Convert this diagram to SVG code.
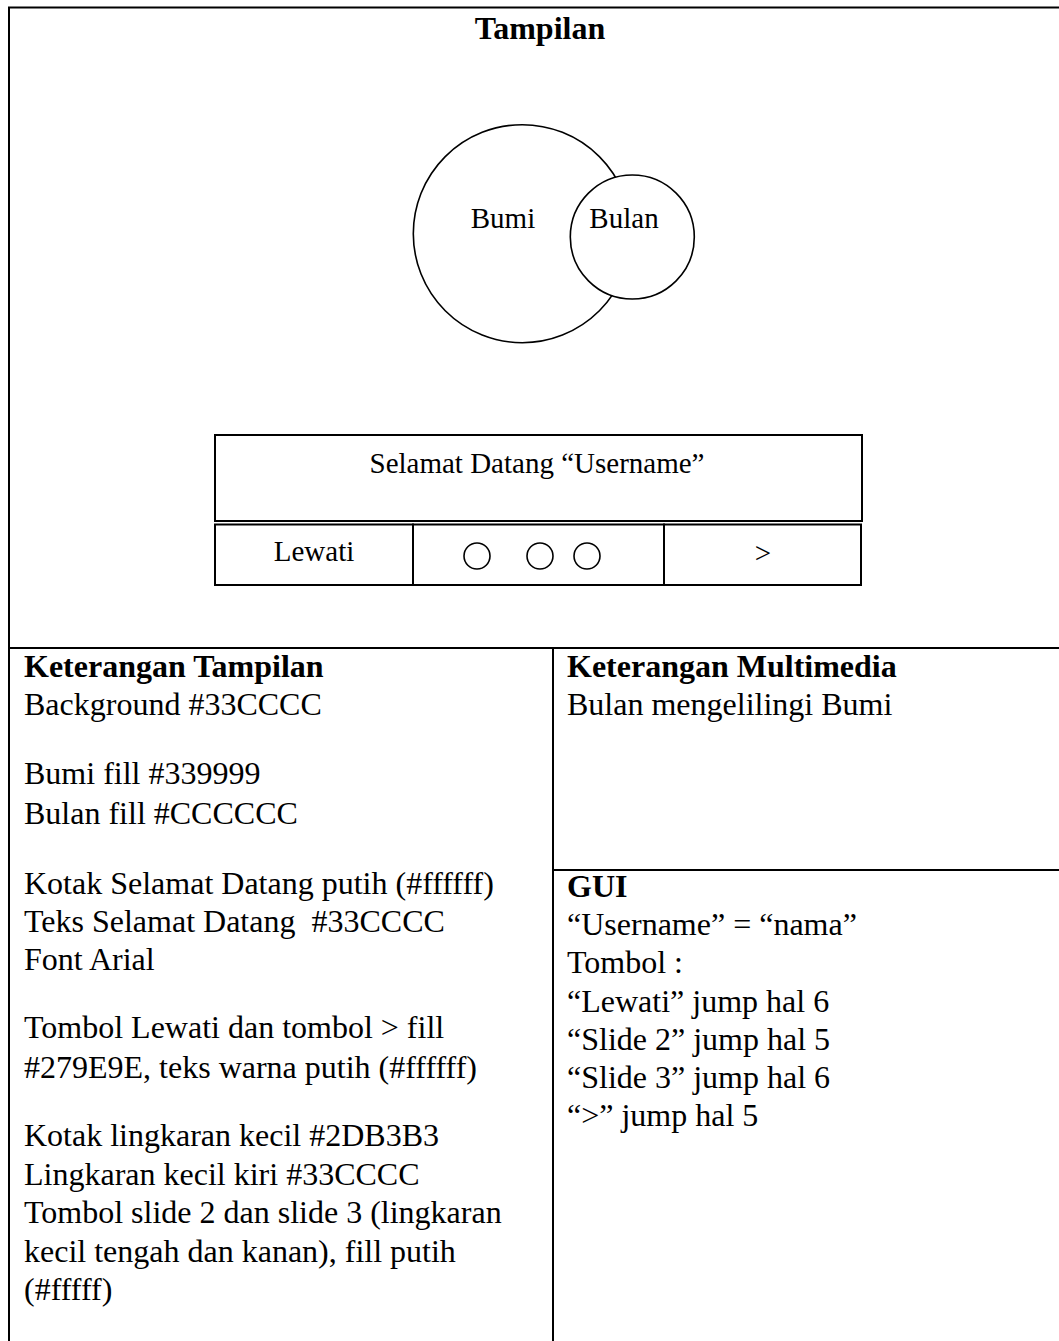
<svg xmlns="http://www.w3.org/2000/svg" width="1059" height="1341" viewBox="0 0 1059 1341">
  <style>
    text { font-family: "Liberation Serif", "Times New Roman", serif; fill: #000; }
    .t { font-size: 32px; }
    .d { font-size: 29px; }
    .b { font-weight: bold; }
    .mid { text-anchor: middle; }
    .rule { stroke: #000; stroke-width: 2; fill: none; }
    .shape { stroke: #000; stroke-width: 1.6; fill: #fff; }
    .box { stroke: #000; stroke-width: 2; fill: #fff; }
  </style>

  <rect width="1059" height="1341" fill="#fff"/>

  <!-- table frame -->
  <g id="frame">
    <line class="rule" x1="8" y1="7.5" x2="1059" y2="7.5"/>
    <line class="rule" x1="9" y1="7" x2="9" y2="1341"/>
    <line class="rule" x1="8" y1="648" x2="1059" y2="648"/>
    <line class="rule" x1="553" y1="648" x2="553" y2="1341"/>
    <line class="rule" x1="553" y1="870" x2="1059" y2="870"/>
  </g>

  <g id="title">
    <text class="t b mid" x="540" y="39">Tampilan</text>
  </g>

  <!-- earth and moon sketch -->
  <g id="bumi">
    <circle class="shape" cx="522.3" cy="233.7" r="109"/>
    <text class="d mid" x="503" y="228">Bumi</text>
  </g>
  <g id="bulan">
    <circle class="shape" cx="632.3" cy="237" r="62"/>
    <text class="d mid" x="624" y="228">Bulan</text>
  </g>

  <!-- welcome panel -->
  <g id="welcome-box">
    <rect class="box" x="215" y="435" width="647" height="86"/>
    <text class="d mid" x="537" y="473">Selamat Datang “Username”</text>
  </g>
  <g id="btn-lewati">
    <rect class="box" x="215" y="524.5" width="198" height="60.5"/>
    <text class="d mid" x="314" y="561">Lewati</text>
  </g>
  <g id="slide-dots">
    <rect class="box" x="413" y="524.5" width="251" height="60.5"/>
    <circle class="shape" cx="477" cy="556" r="13"/>
    <circle class="shape" cx="540" cy="556" r="13"/>
    <circle class="shape" cx="587" cy="556" r="13"/>
  </g>
  <g id="btn-next">
    <rect class="box" x="664" y="524.5" width="197" height="60.5"/>
    <text class="d mid" x="763" y="562.5">&gt;</text>
  </g>

  <!-- display notes -->
  <g id="keterangan-tampilan">
    <text class="t b" x="24" y="677">Keterangan Tampilan</text>
    <text class="t" x="24" y="715">Background #33CCCC</text>
    <text class="t" x="24" y="784">Bumi fill #339999</text>
    <text class="t" x="24" y="824">Bulan fill #CCCCCC</text>
    <text class="t" x="24" y="894">Kotak Selamat Datang putih (#ffffff)</text>
    <text class="t" x="24" y="932" xml:space="preserve">Teks Selamat Datang  #33CCCC</text>
    <text class="t" x="24" y="970">Font Arial</text>
    <text class="t" x="24" y="1038">Tombol Lewati dan tombol &gt; fill</text>
    <text class="t" x="24" y="1078">#279E9E, teks warna putih (#ffffff)</text>
    <text class="t" x="24" y="1146">Kotak lingkaran kecil #2DB3B3</text>
    <text class="t" x="24" y="1185">Lingkaran kecil kiri #33CCCC</text>
    <text class="t" x="24" y="1223">Tombol slide 2 dan slide 3 (lingkaran</text>
    <text class="t" x="24" y="1262">kecil tengah dan kanan), fill putih</text>
    <text class="t" x="24" y="1300">(#fffff)</text>
  </g>

  <!-- multimedia notes -->
  <g id="keterangan-multimedia">
    <text class="t b" x="567" y="677">Keterangan Multimedia</text>
    <text class="t" x="567" y="715">Bulan mengelilingi Bumi</text>
  </g>

  <!-- GUI notes -->
  <g id="gui">
    <text class="t b" x="567" y="897">GUI</text>
    <text class="t" x="567" y="935">“Username” = “nama”</text>
    <text class="t" x="567" y="973">Tombol :</text>
    <text class="t" x="567" y="1012">“Lewati” jump hal 6</text>
    <text class="t" x="567" y="1050">“Slide 2” jump hal 5</text>
    <text class="t" x="567" y="1088">“Slide 3” jump hal 6</text>
    <text class="t" x="567" y="1126">“&gt;” jump hal 5</text>
  </g>
</svg>
